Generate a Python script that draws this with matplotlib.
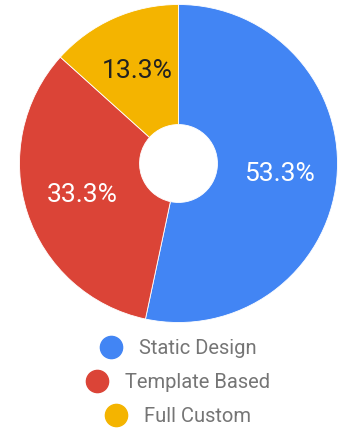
import matplotlib
matplotlib.use("Agg")
import matplotlib.pyplot as plt
from matplotlib.lines import Line2D

plt.rcParams['font.family'] = ['Roboto', 'DejaVu Sans']

# data
categories = ['Static Design', 'Template Based', 'Full Custom']
values = [8, 5, 2]
colors = ['#4285F4', '#DB4437', '#F4B400']
label_colors = ['white', 'white', '#212121']

W, H = 345, 430
fig = plt.figure(figsize=(W / 100, H / 100), dpi=100)

# pie axes placed in pixels: centre (178.5, 163.5), radius 159
cx, cy, r = 178.5, 163.5, 159
ax = fig.add_axes([(cx - r) / W, (H - cy - r) / H, 2 * r / W, 2 * r / H])
wedges, texts, autotexts = ax.pie(
    values, colors=colors, startangle=90, counterclock=False,
    autopct='%.1f%%', pctdistance=0.64, radius=1,
    wedgeprops=dict(width=0.755, edgecolor='white', linewidth=0.6),
    textprops=dict(fontsize=19))
for t, c in zip(autotexts, label_colors):
    t.set_color(c)
ax.set_xlim(-1, 1)
ax.set_ylim(-1, 1)
ax.set_aspect('equal')
ax.axis('off')

# legend, one centred row per entry
legend_y = [349, 383, 417]
for name, col, y in zip(categories, colors, legend_y):
    h = Line2D([], [], marker='o', linestyle='none', markersize=16,
               markerfacecolor=col, markeredgecolor=col)
    fig.legend([h], [name], loc='center', bbox_to_anchor=(cx / W, 1 - y / H),
               frameon=False, fontsize=14.5, labelcolor='#757575',
               handletextpad=0.9, handlelength=1.0, borderpad=0)

fig.savefig('out.png', dpi=100)
